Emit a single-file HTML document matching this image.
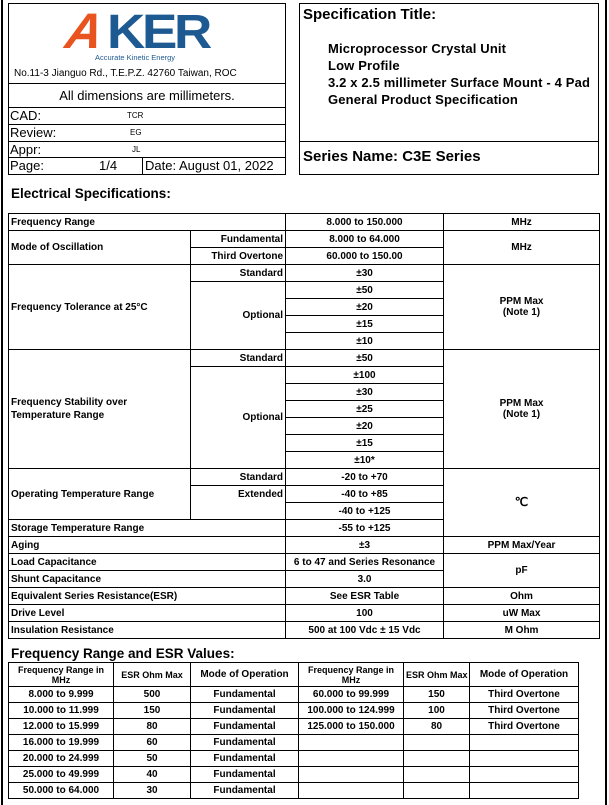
<!DOCTYPE html>
<html><head><meta charset="utf-8"><style>
*{margin:0;padding:0;box-sizing:border-box}
body{width:609px;height:805px;background:#fff;position:relative;font-family:"Liberation Sans",Arial,sans-serif;color:#000;overflow:hidden}
.a{position:absolute}
.box{position:absolute;border:1px solid #000}
.hl{position:absolute;height:1px;background:#000}
.vl{position:absolute;width:1px;background:#000}
table{border-collapse:collapse;position:absolute;table-layout:fixed}
td{border:1px solid #000;font-weight:bold;font-size:10px;height:17px;padding:0 2px;line-height:11px;white-space:nowrap}
.c{text-align:center}.r{text-align:right}
#esr td{height:16px;font-size:10px;text-align:center}
#esr tr.h td{height:24px;font-size:9px;line-height:10px}
</style></head><body>
<div class="vl" style="left:1px;top:0;height:805px;width:2px"></div>
<div class="vl" style="left:605px;top:0;height:805px;width:2px"></div>

<div class="box" style="left:8px;top:3px;width:278px;height:172px"></div>
<svg class="a" style="left:55px;top:6px" width="170" height="58">
<text x="8" y="42" font-family="Liberation Sans" font-weight="bold" font-style="italic" font-size="50" fill="#e8531f" transform="skewX(-10) translate(8,0)">A</text>
<text x="52" y="42" font-family="Liberation Sans" font-weight="bold" font-size="48" fill="#1e5a92" letter-spacing="-3" textLength="102" lengthAdjust="spacingAndGlyphs">KER</text>
<text x="40" y="54" font-family="Liberation Sans" font-size="7.5" fill="#1e5a92">Accurate Kinetic Energy</text>
</svg>
<div class="a" style="left:14px;top:68px;font-size:10px">No.11-3 Jianguo Rd., T.E.P.Z. 42760 Taiwan, ROC</div>
<div class="hl" style="left:8px;top:83px;width:278px"></div>
<div class="a" style="left:8px;top:88px;width:278px;text-align:center;font-size:13px">All dimensions are millimeters.</div>
<div class="hl" style="left:8px;top:107px;width:278px"></div>
<div class="hl" style="left:8px;top:124px;width:278px"></div>
<div class="hl" style="left:8px;top:141px;width:278px"></div>
<div class="hl" style="left:8px;top:157px;width:278px"></div>
<div class="vl" style="left:142px;top:157px;height:17px"></div>
<div class="a" style="left:10px;top:108px;font-size:13px">CAD:</div><div class="a" style="left:127px;top:111px;font-size:8px">TCR</div>
<div class="a" style="left:10px;top:125px;font-size:13px">Review:</div><div class="a" style="left:130px;top:128px;font-size:8px">EG</div>
<div class="a" style="left:10px;top:142px;font-size:13px">Appr:</div><div class="a" style="left:132px;top:145px;font-size:8px">JL</div>
<div class="a" style="left:10px;top:158px;font-size:13px">Page:</div><div class="a" style="left:99px;top:158px;font-size:13px">1/4</div>
<div class="a" style="left:145px;top:158px;font-size:13px">Date: August 01, 2022</div>

<div class="box" style="left:299px;top:3px;width:300px;height:172px"></div>
<div class="hl" style="left:299px;top:141px;width:300px"></div>
<div class="a" style="left:303px;top:6px;font-size:15px;font-weight:bold">Specification Title:</div>
<div class="a" style="left:328px;top:40px;font-size:13px;font-weight:bold;line-height:17px;letter-spacing:0.15px">Microprocessor Crystal Unit<br>Low Profile<br>3.2 x 2.5 millimeter Surface Mount - 4 Pad<br>General Product Specification</div>
<div class="a" style="left:303px;top:148px;font-size:15px;font-weight:bold">Series Name: C3E Series</div>

<div class="a" style="left:11px;top:186px;font-size:13.5px;font-weight:bold">Electrical Specifications:</div>

<table style="left:8px;top:213px;width:591px">
<colgroup><col style="width:182px"><col style="width:95px"><col style="width:158px"><col style="width:156px"></colgroup>
<tr><td colspan="2">Frequency Range</td><td class="c">8.000 to 150.000</td><td class="c">MHz</td></tr>
<tr><td rowspan="2">Mode of Oscillation</td><td class="r">Fundamental</td><td class="c">8.000 to 64.000</td><td class="c" rowspan="2">MHz</td></tr>
<tr><td class="r">Third Overtone</td><td class="c">60.000 to 150.00</td></tr>
<tr><td rowspan="5">Frequency Tolerance at 25°C</td><td class="r">Standard</td><td class="c">±30</td><td class="c" rowspan="5">PPM Max<br>(Note 1)</td></tr>
<tr><td class="r" rowspan="4">Optional</td><td class="c">±50</td></tr>
<tr><td class="c">±20</td></tr><tr><td class="c">±15</td></tr><tr><td class="c">±10</td></tr>
<tr><td rowspan="7" style="line-height:13px">Frequency Stability over<br>Temperature Range</td><td class="r">Standard</td><td class="c">±50</td><td class="c" rowspan="7">PPM Max<br>(Note 1)</td></tr>
<tr><td class="r" rowspan="6">Optional</td><td class="c">±100</td></tr>
<tr><td class="c">±30</td></tr><tr><td class="c">±25</td></tr><tr><td class="c">±20</td></tr><tr><td class="c">±15</td></tr><tr><td class="c">±10*</td></tr>
<tr><td rowspan="3">Operating Temperature Range</td><td class="r">Standard</td><td class="c">-20 to +70</td><td class="c" rowspan="4" style="font-size:12px">℃</td></tr>
<tr><td class="r" style="border-bottom:none">Extended</td><td class="c">-40 to +85</td></tr>
<tr><td style="border-top:none"></td><td class="c">-40 to +125</td></tr>
<tr><td colspan="2">Storage Temperature Range</td><td class="c">-55 to +125</td></tr>
<tr><td colspan="2">Aging</td><td class="c">±3</td><td class="c">PPM Max/Year</td></tr>
<tr><td colspan="2">Load Capacitance</td><td class="c">6 to 47 and Series Resonance</td><td class="c" rowspan="2">pF</td></tr>
<tr><td colspan="2">Shunt Capacitance</td><td class="c">3.0</td></tr>
<tr><td colspan="2">Equivalent Series Resistance(ESR)</td><td class="c">See ESR Table</td><td class="c">Ohm</td></tr>
<tr><td colspan="2">Drive Level</td><td class="c">100</td><td class="c">uW Max</td></tr>
<tr><td colspan="2">Insulation Resistance</td><td class="c">500 at 100 Vdc ± 15 Vdc</td><td class="c">M Ohm</td></tr>
</table>

<div class="a" style="left:11px;top:646px;font-size:13.5px;font-weight:bold">Frequency Range and ESR Values:</div>
<table id="esr" style="left:8px;top:662px;width:570px">
<colgroup><col style="width:105px"><col style="width:77px"><col style="width:108px"><col style="width:105px"><col style="width:66px"><col style="width:109px"></colgroup>
<tr class="h"><td>Frequency Range in<br>MHz</td><td>ESR Ohm Max</td><td style="font-size:10px">Mode of Operation</td><td>Frequency Range in<br>MHz</td><td>ESR Ohm Max</td><td style="font-size:10px">Mode of Operation</td></tr>
<tr><td>8.000 to 9.999</td><td>500</td><td>Fundamental</td><td>60.000 to 99.999</td><td>150</td><td>Third Overtone</td></tr>
<tr><td>10.000 to 11.999</td><td>150</td><td>Fundamental</td><td>100.000 to 124.999</td><td>100</td><td>Third Overtone</td></tr>
<tr><td>12.000 to 15.999</td><td>80</td><td>Fundamental</td><td>125.000 to 150.000</td><td>80</td><td>Third Overtone</td></tr>
<tr><td>16.000 to 19.999</td><td>60</td><td>Fundamental</td><td></td><td></td><td></td></tr>
<tr><td>20.000 to 24.999</td><td>50</td><td>Fundamental</td><td></td><td></td><td></td></tr>
<tr><td>25.000 to 49.999</td><td>40</td><td>Fundamental</td><td></td><td></td><td></td></tr>
<tr><td>50.000 to 64.000</td><td>30</td><td>Fundamental</td><td></td><td></td><td></td></tr>
</table>
</body></html>
